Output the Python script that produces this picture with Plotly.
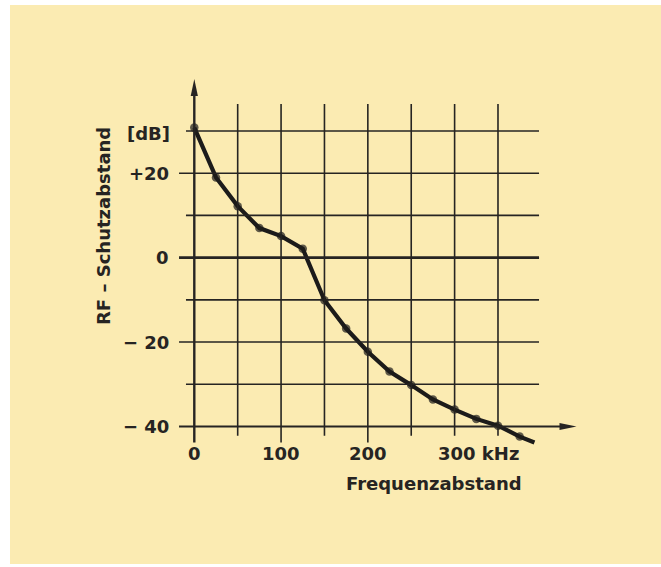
import plotly.graph_objects as go

# ---- data ----
freq_khz = [0, 25, 50, 75, 100, 125, 150, 175, 200, 225, 250, 275, 300, 325, 350, 375, 392]
protection_db = [30.8, 19.0, 12.2, 7.0, 5.1, 2.1, -10.1, -16.8, -22.3, -27.0, -30.2, -33.6, -36.0, -38.2, -39.8, -42.4, -43.8]
show_marker = [True] * 16 + [False]

x_grid = [50, 100, 150, 200, 250, 300, 350]
x_tick_labels = {0: "0", 100: "100", 200: "200"}
y_grid = [30, 20, 10, 0, -10, -20, -30]
y_tick_labels = {20: "+20", 0: "0", -20: "\u2212 20", -40: "\u2212 40"}

INK = "#262422"
BG = "#fbebb2"
FONT = "DejaVu Sans"

W, H = 661, 567
ML, MR, MT, MB = 150, 61, 60, 97
X_RANGE = [-51.06, 467.56]
Y_RANGE = [-50.31, 46.82]

PXX = (W - ML - MR) / (X_RANGE[1] - X_RANGE[0])   # px per kHz
PXY = (H - MT - MB) / (Y_RANGE[1] - Y_RANGE[0])   # px per dB


def px_to_paper_x(p):
    return (p - ML) / (W - ML - MR)


def px_to_paper_y(p):
    return 1 - (p - MT) / (H - MT - MB)


fig = go.Figure()

shapes = []
# horizontal grid lines
for yv in y_grid:
    major = yv in y_tick_labels
    shapes.append(dict(type="line", xref="x", yref="y", x0=-17.6 if major else -9.6, x1=397.3,
                       y0=yv, y1=yv, line=dict(color=INK, width=2.6 if yv == 0 else 1.6)))
# vertical grid lines
for xv in x_grid:
    major = xv in x_tick_labels
    shapes.append(dict(type="line", xref="x", yref="y", x0=xv, x1=xv, y0=-43.8 if major else -42.2,
                       y1=36.4, line=dict(color=INK, width=1.6)))
# axis lines
X_TIP, Y_TIP = 440.5, 42.3
HEAD_LEN, HEAD_HALF = 17, 3.6
shapes.append(dict(type="line", xref="x", yref="y", x0=-17.6, x1=X_TIP - HEAD_LEN / PXX + 1, y0=-40, y1=-40,
                   line=dict(color=INK, width=2.2)))
shapes.append(dict(type="line", xref="x", yref="y", x0=0, x1=0, y0=-43.8, y1=Y_TIP - HEAD_LEN / PXY + 0.3,
                   line=dict(color=INK, width=2.4)))
# arrowheads
shapes.append(dict(type="path", xref="x", yref="y",
                   path="M %f,%f L %f,%f L %f,%f Z" % (
                       0, Y_TIP, -HEAD_HALF / PXX, Y_TIP - HEAD_LEN / PXY, HEAD_HALF / PXX, Y_TIP - HEAD_LEN / PXY),
                   fillcolor=INK, line=dict(width=0)))
shapes.append(dict(type="path", xref="x", yref="y",
                   path="M %f,%f L %f,%f L %f,%f Z" % (
                       X_TIP, -40, X_TIP - HEAD_LEN / PXX, -40 + HEAD_HALF / PXY, X_TIP - HEAD_LEN / PXX, -40 - HEAD_HALF / PXY),
                   fillcolor=INK, line=dict(width=0)))
# white paper edges
for (x0, x1, y0, y1) in [(0, 10, 0, H), (0, W, 0, 5), (0, W, H - 3, H)]:
    shapes.append(dict(type="rect", xref="paper", yref="paper",
                       x0=px_to_paper_x(x0), x1=px_to_paper_x(x1),
                       y0=px_to_paper_y(y1), y1=px_to_paper_y(y0),
                       fillcolor="white", line=dict(width=0), layer="below"))

fig.add_trace(go.Scatter(
    x=freq_khz, y=protection_db, mode="lines+markers",
    line=dict(color="#1c1b1a", width=4.2),
    marker=dict(size=[8.5 if m else 0 for m in show_marker], color="#1c1b1a", line=dict(width=0)),
    hoverinfo="skip", showlegend=False, cliponaxis=False,
))

annotations = []
fnt = dict(family=FONT, size=18, color=INK)
for yv, lab in y_tick_labels.items():
    annotations.append(dict(x=-27, y=yv, xref="x", yref="y", text="<b>%s</b>" % lab, showarrow=False,
                            xanchor="right", yanchor="middle", font=fnt))
annotations.append(dict(x=-25.5, y=29.3, xref="x", yref="y", text="<b>[dB]</b>", showarrow=False,
                        xanchor="right", yanchor="middle", font=fnt))
for xv, lab in x_tick_labels.items():
    annotations.append(dict(x=xv, y=-46.5, xref="x", yref="y", text="<b>%s</b>" % lab, showarrow=False,
                            xanchor="center", yanchor="middle", font=fnt))
annotations.append(dict(x=279, y=-46.5, xref="x", yref="y", text="<b>300 kHz</b>", showarrow=False,
                        xanchor="left", yanchor="middle", font=fnt))
annotations.append(dict(x=px_to_paper_x(524), y=px_to_paper_y(483), xref="paper", yref="paper",
                        text="<b>Frequenzabstand</b>", showarrow=False,
                        xanchor="right", yanchor="middle", font=fnt))
annotations.append(dict(x=px_to_paper_x(103), y=px_to_paper_y(226), xref="paper", yref="paper",
                        text="<b>RF \u2013 Schutzabstand</b>",
                        showarrow=False, textangle=-90, xanchor="center", yanchor="middle", font=fnt))

fig.update_layout(
    width=W, height=H,
    margin=dict(l=ML, r=MR, t=MT, b=MB, pad=0),
    paper_bgcolor=BG, plot_bgcolor="rgba(0,0,0,0)",
    xaxis=dict(range=X_RANGE, visible=False, fixedrange=True),
    yaxis=dict(range=Y_RANGE, visible=False, fixedrange=True),
    shapes=shapes, annotations=annotations,
)

fig.write_html("out.html", config={"displayModeBar": False},
               post_script="document.body.style.margin='0';document.body.style.padding='0';")
